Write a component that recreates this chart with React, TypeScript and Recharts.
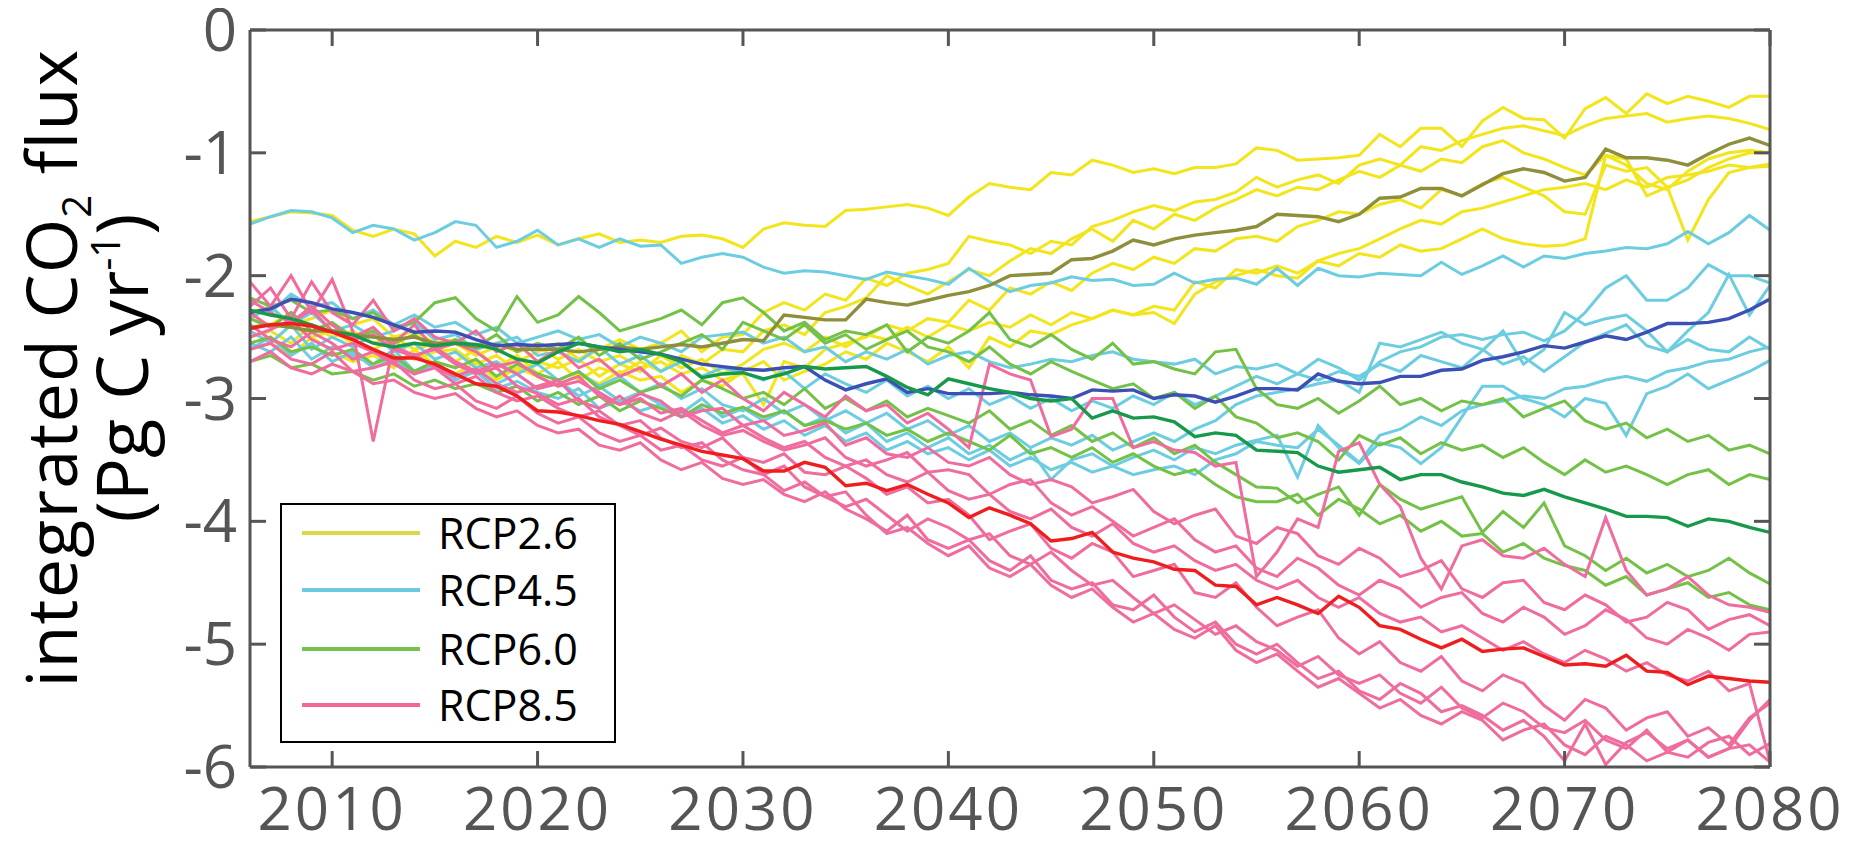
import React from 'react';
import { LineChart, Line, XAxis, YAxis, ReferenceLine } from 'recharts';

// ─── Data (Pg C / yr, one value per year) ───────────────────────────

const YEARS = [
  2006, 2007, 2008, 2009, 2010, 2011, 2012, 2013, 2014, 2015,
  2016, 2017, 2018, 2019, 2020, 2021, 2022, 2023, 2024, 2025,
  2026, 2027, 2028, 2029, 2030, 2031, 2032, 2033, 2034, 2035,
  2036, 2037, 2038, 2039, 2040, 2041, 2042, 2043, 2044, 2045,
  2046, 2047, 2048, 2049, 2050, 2051, 2052, 2053, 2054, 2055,
  2056, 2057, 2058, 2059, 2060, 2061, 2062, 2063, 2064, 2065,
  2066, 2067, 2068, 2069, 2070, 2071, 2072, 2073, 2074, 2075,
  2076, 2077, 2078, 2079, 2080,
];

const X_TICKS = [2010, 2020, 2030, 2040, 2050, 2060, 2070, 2080];
const Y_TICKS = [-6, -5, -4, -3, -2, -1, 0];

// RCP2.6 ensemble members + mean
const RCP26_A = [
  -1.56, -1.52, -1.48, -1.49, -1.51, -1.63, -1.68, -1.62, -1.66, -1.84,
  -1.72, -1.77, -1.68, -1.73, -1.67, -1.75, -1.70, -1.66, -1.73, -1.71,
  -1.73, -1.68, -1.67, -1.70, -1.77, -1.62, -1.57, -1.59, -1.60, -1.47,
  -1.46, -1.44, -1.42, -1.45, -1.51, -1.36, -1.25, -1.28, -1.30, -1.16,
  -1.18, -1.06, -1.10, -1.16, -1.13, -1.17, -1.12, -1.12, -1.09, -0.96,
  -0.98, -1.06, -1.05, -1.04, -1.02, -0.85, -0.95, -0.80, -0.80, -0.95,
  -0.74, -0.63, -0.72, -0.73, -0.88, -0.64, -0.55, -0.68, -0.52, -0.60,
  -0.54, -0.58, -0.63, -0.54, -0.54,
];
const RCP26_B = [
  -2.35, -2.40, -2.30, -2.45, -2.40, -2.50, -2.45, -2.55, -2.48, -2.60,
  -2.55, -2.65, -2.58, -2.70, -2.62, -2.55, -2.68, -2.60, -2.52, -2.60,
  -2.55, -2.45, -2.62, -2.50, -2.48, -2.30, -2.22, -2.28, -2.15, -2.20,
  -2.02, -2.08, -1.98, -1.95, -1.90, -1.68, -1.72, -1.75, -1.82, -1.72,
  -1.75, -1.60, -1.55, -1.48, -1.43, -1.47, -1.40, -1.38, -1.32, -1.20,
  -1.28, -1.22, -1.18, -1.25, -1.10, -1.05, -1.10, -0.95, -0.98, -0.90,
  -0.85, -0.80, -0.78, -0.82, -0.86, -0.78, -0.72, -0.70, -0.68, -0.75,
  -0.72, -0.70, -0.72, -0.76, -0.81,
];
const RCP26_C = [
  -2.50, -2.45, -2.55, -2.40, -2.50, -2.45, -2.55, -2.50, -2.60, -2.55,
  -2.70, -2.60, -2.75, -2.65, -2.80, -2.70, -2.85, -2.75, -2.80, -2.70,
  -2.78, -2.65, -2.72, -2.60, -2.62, -2.45, -2.40, -2.48, -2.30, -2.25,
  -2.18, -2.00, -2.08, -2.15, -2.05, -1.95, -2.00, -1.88, -1.78, -1.82,
  -1.70, -1.62, -1.72, -1.55, -1.62, -1.50, -1.55, -1.45, -1.38, -1.30,
  -1.35, -1.28, -1.30, -1.22, -1.15, -1.20, -1.10, -1.15, -1.05, -1.08,
  -0.95, -0.90, -1.00, -1.05, -1.12, -1.18, -1.02, -1.10, -1.25, -1.30,
  -1.15, -1.05, -1.00, -0.98, -1.00,
];
const RCP26_D = [
  -2.30, -2.25, -2.40, -2.35, -2.28, -2.40, -2.35, -2.50, -2.45, -2.55,
  -2.52, -2.60, -2.55, -2.62, -2.58, -2.68, -2.60, -2.70, -2.65, -2.75,
  -2.70, -2.80, -2.75, -2.85, -2.80, -3.05, -2.70, -2.75, -2.60, -2.55,
  -2.50, -2.40, -2.45, -2.35, -2.38, -2.20, -2.28, -2.10, -2.15, -2.05,
  -2.12, -1.98, -1.90, -1.95, -1.85, -1.90, -1.78, -1.80, -1.70, -1.68,
  -1.72, -1.60, -1.55, -1.48, -1.50, -1.42, -1.38, -1.45, -1.30, -1.35,
  -1.25, -1.20, -1.28, -1.35, -1.48, -1.50, -1.10, -1.15, -1.12, -1.28,
  -1.71, -1.38, -1.16, -1.12, -1.11,
];
const RCP26_E = [
  -2.60, -2.55, -2.65, -2.50, -2.62, -2.70, -2.65, -2.75, -2.60, -2.72,
  -2.80, -2.70, -2.85, -2.75, -2.82, -2.90, -2.80, -2.88, -2.78, -2.85,
  -2.82, -2.95, -2.85, -2.90, -2.78, -2.70, -2.85, -2.78, -2.72, -2.62,
  -2.68, -2.55, -2.62, -2.70, -2.58, -2.75, -2.50, -2.58, -2.45, -2.48,
  -2.40, -2.35, -2.28, -2.32, -2.25, -2.28, -2.05, -2.10, -1.95, -1.98,
  -1.92, -1.98, -1.88, -1.92, -1.82, -1.85, -1.75, -1.80, -1.78, -1.70,
  -1.62, -1.70, -1.74, -1.76, -1.75, -1.70, -1.02, -1.05, -1.35, -1.28,
  -1.22, -1.12, -1.05, -1.00, -1.00,
];
const RCP26_F = [
  -2.45, -2.55, -2.40, -2.50, -2.45, -2.55, -2.60, -2.52, -2.68, -2.62,
  -2.60, -2.72, -2.65, -2.78, -2.70, -2.75, -2.68, -2.82, -2.72, -2.78,
  -2.65, -2.75, -2.68, -2.80, -2.72, -2.60, -2.55, -2.62, -2.50, -2.58,
  -2.48, -2.52, -2.42, -2.50, -2.40, -2.45, -2.38, -2.42, -2.32, -2.40,
  -2.30, -2.35, -2.28, -2.32, -2.30, -2.39, -2.15, -2.05, -2.00, -1.95,
  -2.00, -2.02, -1.88, -1.82, -1.78, -1.70, -1.62, -1.55, -1.58, -1.48,
  -1.45, -1.40, -1.35, -1.30, -1.28, -1.25, -1.30, -1.22, -1.28, -1.20,
  -1.18, -1.15, -1.10, -1.12, -1.09,
];
const RCP26_MEAN = [
  -2.42, -2.40, -2.42, -2.45, -2.45, -2.48, -2.50, -2.52, -2.50, -2.55,
  -2.55, -2.58, -2.56, -2.60, -2.60, -2.60, -2.62, -2.60, -2.58, -2.60,
  -2.58, -2.56, -2.58, -2.55, -2.52, -2.53, -2.32, -2.34, -2.36, -2.36,
  -2.19, -2.22, -2.24, -2.20, -2.16, -2.13, -2.08, -2.00, -1.99, -1.98,
  -1.87, -1.86, -1.80, -1.71, -1.75, -1.70, -1.67, -1.65, -1.63, -1.60,
  -1.50, -1.51, -1.52, -1.56, -1.50, -1.37, -1.36, -1.29, -1.29, -1.35,
  -1.26, -1.17, -1.13, -1.16, -1.23, -1.20, -0.97, -1.04, -1.04, -1.06,
  -1.10, -1.01, -0.93, -0.88, -0.94,
];

// RCP4.5 ensemble members + mean
const RCP45_A = [
  -1.58, -1.52, -1.47, -1.48, -1.53, -1.65, -1.59, -1.62, -1.71, -1.65,
  -1.56, -1.59, -1.77, -1.72, -1.63, -1.75, -1.70, -1.77, -1.70, -1.76,
  -1.75, -1.90, -1.85, -1.82, -1.85, -1.93, -1.98, -1.96, -1.97, -2.00,
  -2.03, -1.97, -2.00, -2.03, -2.07, -1.94, -2.05, -2.13, -2.08, -2.06,
  -2.01, -2.04, -2.03, -2.08, -2.07, -1.98, -2.06, -2.03, -2.02, -2.07,
  -1.94, -2.08, -1.94, -2.00, -2.01, -1.98, -1.99, -2.00, -1.89, -1.99,
  -1.92, -1.84, -1.93, -1.84, -1.86, -1.82, -1.80, -1.77, -1.78, -1.74,
  -1.64, -1.74, -1.65, -1.51, -1.63,
];
const RCP45_B = [
  -2.20, -2.30, -2.15, -2.25, -2.22, -2.35, -2.28, -2.40, -2.32, -2.42,
  -2.38, -2.48, -2.42, -2.55, -2.50, -2.45, -2.52, -2.48, -2.58, -2.50,
  -2.55, -2.62, -2.50, -2.48, -2.46, -2.55, -2.50, -2.62, -2.58, -2.70,
  -2.62, -2.68, -2.60, -2.72, -2.65, -2.62, -2.70, -2.75, -2.72, -2.68,
  -2.70, -2.65, -2.62, -2.68, -2.70, -2.72, -2.68, -2.80, -2.74, -2.76,
  -2.72, -2.80, -2.68, -2.75, -2.85, -2.70, -2.62, -2.58, -2.50, -2.48,
  -2.52, -2.48, -2.46, -2.53, -2.45, -2.30, -2.10, -2.00, -2.20, -2.20,
  -2.10, -1.91, -2.00, -2.00, -2.06,
];
const RCP45_C = [
  -2.35, -2.25, -2.40, -2.30, -2.45, -2.40, -2.50, -2.45, -2.38, -2.52,
  -2.48, -2.60, -2.55, -2.50, -2.65, -2.62, -2.70, -2.58, -2.72, -2.65,
  -2.78, -2.70, -2.82, -2.75, -2.79, -2.85, -2.78, -2.92, -2.80, -2.88,
  -2.95, -2.85, -2.98, -2.90, -3.00, -2.92, -3.05, -2.98, -3.08, -3.00,
  -3.10, -3.02, -3.08, -2.98, -3.05, -2.95, -3.05, -2.98, -2.90, -2.82,
  -2.88, -2.80, -2.85, -2.78, -2.82, -2.72, -2.78, -2.65, -2.70, -2.75,
  -2.61, -2.45, -2.72, -2.60, -2.30, -2.40, -2.35, -2.32, -2.45, -2.62,
  -2.45, -2.30, -1.99, -2.32, -2.08,
];
const RCP45_D = [
  -2.45, -2.55, -2.40, -2.60, -2.50, -2.58, -2.48, -2.62, -2.55, -2.68,
  -2.62, -2.75, -2.70, -2.80, -2.72, -2.85, -2.78, -2.90, -2.82, -2.95,
  -2.88, -3.00, -2.92, -3.05, -3.10, -3.00, -3.12, -3.05, -3.18, -3.10,
  -3.20, -3.12, -3.25, -3.18, -3.30, -3.22, -3.35, -3.28, -3.40, -3.32,
  -3.38, -3.30, -3.42, -3.35, -3.28, -3.35, -3.25, -3.18, -3.05, -2.98,
  -2.95, -2.92, -2.88, -2.85, -2.95, -2.55, -2.58, -2.52, -2.46, -2.55,
  -2.60, -2.72, -2.66, -2.78, -2.66, -2.54, -2.47, -2.40, -2.57, -2.62,
  -2.52, -2.60, -2.62, -2.50, -2.60,
];
const RCP45_E = [
  -2.55, -2.62, -2.50, -2.68, -2.58, -2.65, -2.72, -2.60, -2.78, -2.70,
  -2.82, -2.75, -2.88, -2.80, -2.92, -2.85, -2.98, -2.90, -3.02, -2.95,
  -3.05, -3.12, -3.00, -3.15, -3.08, -3.18, -3.10, -3.22, -3.15, -3.28,
  -3.20, -3.35, -3.28, -3.40, -3.32, -3.45, -3.38, -3.50, -3.42, -3.66,
  -3.50, -3.45, -3.55, -3.48, -3.42, -3.50, -3.40, -3.45, -3.38, -3.34,
  -3.30, -3.64, -3.22, -3.40, -3.53, -3.36, -3.40, -3.53, -3.40, -3.15,
  -2.90, -2.90, -3.00, -3.05, -3.15, -3.00, -3.04, -3.30, -2.96, -2.90,
  -2.80, -2.92, -2.85, -2.78, -2.69,
];
const RCP45_F = [
  -2.60, -2.50, -2.65, -2.55, -2.70, -2.62, -2.75, -2.68, -2.80, -2.72,
  -2.85, -2.78, -2.92, -2.86, -2.95, -3.00, -2.92, -3.08, -3.02, -3.10,
  -3.05, -3.15, -3.08, -3.20, -3.14, -3.25, -3.18, -3.30, -3.22, -3.35,
  -3.28, -3.42, -3.35, -3.45, -3.40, -3.50, -3.42, -3.55, -3.48, -3.58,
  -3.52, -3.60, -3.55, -3.62, -3.58, -3.55, -3.62, -3.50, -3.45, -3.35,
  -3.38, -3.40, -3.25, -3.38, -3.52, -3.30, -3.25, -3.15, -3.22, -3.10,
  -3.05, -3.02, -2.98, -3.00, -2.92, -2.90, -2.85, -2.82, -2.86, -2.78,
  -2.75, -2.70, -2.68, -2.62, -2.58,
];
const RCP45_MEAN = [
  -2.30, -2.27, -2.19, -2.22, -2.27, -2.30, -2.34, -2.40, -2.46, -2.45,
  -2.46, -2.52, -2.57, -2.56, -2.57, -2.56, -2.55, -2.58, -2.60, -2.62,
  -2.64, -2.68, -2.72, -2.74, -2.76, -2.77, -2.75, -2.74, -2.85, -2.93,
  -2.88, -2.84, -2.95, -2.92, -2.96, -2.96, -2.96, -2.95, -2.97, -2.98,
  -3.00, -2.93, -2.94, -2.93, -3.00, -2.97, -2.98, -3.03, -2.98, -2.92,
  -2.92, -2.93, -2.80, -2.86, -2.88, -2.87, -2.82, -2.82, -2.77, -2.76,
  -2.69, -2.66, -2.62, -2.57, -2.59, -2.54, -2.49, -2.52, -2.46, -2.39,
  -2.39, -2.38, -2.35, -2.28, -2.19,
];

// RCP6.0 ensemble members + mean
const RCP60_A = [
  -2.18, -2.25, -2.20, -2.30, -2.28, -2.35, -2.30, -2.42, -2.38, -2.22,
  -2.18, -2.35, -2.45, -2.17, -2.38, -2.32, -2.17, -2.30, -2.45, -2.40,
  -2.35, -2.28, -2.40, -2.22, -2.18, -2.30, -2.45, -2.38, -2.52, -2.45,
  -2.48, -2.40, -2.62, -2.50, -2.55, -2.45, -2.30, -2.52, -2.58, -2.48,
  -2.60, -2.68, -2.55, -2.72, -2.70, -2.76, -2.80, -2.62, -2.60, -2.92,
  -3.05, -3.08, -3.00, -3.12, -3.02, -2.90, -3.05, -3.00, -3.10, -3.02,
  -3.05, -3.00, -3.15, -3.08, -3.02, -3.18, -3.25, -3.20, -3.32, -3.25,
  -3.35, -3.30, -3.42, -3.38, -3.45,
];
const RCP60_B = [
  -2.35, -2.42, -2.30, -2.45, -2.38, -2.50, -2.45, -2.55, -2.48, -2.60,
  -2.52, -2.58, -2.48, -2.62, -2.55, -2.60, -2.50, -2.65, -2.55, -2.68,
  -2.62, -2.55, -2.48, -2.60, -2.38, -2.45, -2.52, -2.40, -2.55, -2.48,
  -2.60, -2.52, -2.45, -2.58, -2.62, -2.70, -2.58, -2.72, -2.80, -2.70,
  -2.78, -2.85, -2.92, -2.88, -3.00, -2.95, -3.08, -2.98, -3.15, -3.20,
  -3.32, -3.28, -3.35, -3.50, -3.30, -3.38, -3.32, -3.45, -3.36, -3.42,
  -3.38, -3.48, -3.40, -3.52, -3.62, -3.50, -3.60, -3.55, -3.62, -3.70,
  -3.62, -3.58, -3.70, -3.62, -3.66,
];
const RCP60_C = [
  -2.55, -2.50, -2.62, -2.58, -2.65, -2.60, -2.72, -2.65, -2.78, -2.70,
  -2.75, -2.68, -2.82, -2.72, -2.80, -2.85, -2.78, -2.92, -2.85, -2.95,
  -2.90, -2.98, -2.85, -2.92, -3.00, -2.95, -3.05, -2.92, -3.08, -3.00,
  -3.10, -3.02, -3.15, -3.08, -3.14, -3.20, -3.10, -3.25, -3.18, -3.30,
  -3.22, -3.35, -3.28, -3.40, -3.32, -3.45, -3.38, -3.52, -3.62, -3.72,
  -3.73, -3.85, -3.78, -3.72, -3.95, -3.70, -3.82, -3.90, -3.85, -3.80,
  -4.09, -3.92, -4.05, -3.85, -4.20, -4.28, -4.40, -4.30, -4.42, -4.35,
  -4.45, -4.40, -4.30, -4.42, -4.51,
];
const RCP60_D = [
  -2.70, -2.65, -2.75, -2.72, -2.80, -2.78, -2.85, -2.80, -2.90, -2.85,
  -2.92, -2.88, -2.95, -2.90, -3.02, -2.95, -3.05, -2.98, -3.10, -3.02,
  -3.08, -3.15, -3.05, -3.12, -3.07, -3.15, -3.10, -3.22, -3.18, -3.25,
  -3.20, -3.30, -3.25, -3.35, -3.28, -3.35, -3.42, -3.30, -3.45, -3.40,
  -3.48, -3.40, -3.52, -3.45, -3.55, -3.62, -3.58, -3.70, -3.80, -3.84,
  -3.84, -3.78, -3.95, -3.82, -3.90, -4.02, -3.95, -4.08, -4.00, -4.12,
  -4.10, -4.25, -4.18, -4.30, -4.36, -4.40, -4.52, -4.45, -4.60, -4.55,
  -4.50, -4.62, -4.58, -4.68, -4.72,
];
const RCP60_MEAN = [
  -2.28, -2.32, -2.35, -2.40, -2.46, -2.48, -2.55, -2.58, -2.55, -2.57,
  -2.55, -2.56, -2.60, -2.68, -2.71, -2.62, -2.55, -2.58, -2.62, -2.60,
  -2.64, -2.70, -2.83, -2.80, -2.79, -2.84, -2.80, -2.74, -2.76, -2.75,
  -2.74, -2.82, -2.91, -2.97, -2.84, -2.88, -2.92, -2.95, -3.00, -3.02,
  -3.00, -3.16, -3.10, -3.16, -3.15, -3.19, -3.31, -3.28, -3.30, -3.42,
  -3.43, -3.44, -3.55, -3.60, -3.58, -3.56, -3.66, -3.62, -3.62, -3.68,
  -3.72, -3.77, -3.79, -3.74, -3.80, -3.85, -3.90, -3.96, -3.96, -3.97,
  -4.04, -3.98, -4.00, -4.05, -4.09,
];

// RCP8.5 ensemble members + mean
const RCP85_A = [
  -2.25, -2.10, -2.35, -2.05, -2.30, -2.40, -2.20, -2.45, -2.35, -2.50,
  -2.55, -2.45, -2.62, -2.55, -2.70, -2.60, -2.75, -2.68, -2.82, -2.75,
  -2.90, -2.80, -2.95, -2.85, -3.00, -3.10, -2.95, -3.05, -3.15, -2.98,
  -3.10, -3.05, -3.20, -3.12, -3.25, -3.40, -2.72, -2.80, -2.85, -3.31,
  -3.25, -3.00, -3.00, -3.40, -3.35, -3.42, -3.44, -3.55, -3.52, -4.45,
  -4.25, -3.98, -4.05, -3.43, -3.36, -3.70, -3.88, -4.30, -4.55, -4.20,
  -4.15, -4.28, -4.30, -4.22, -4.35, -4.45, -3.97, -4.40, -4.60, -4.55,
  -4.45, -4.60, -4.68, -4.70, -4.74,
];
const RCP85_B = [
  -2.30, -2.42, -2.38, -2.25, -2.40, -2.52, -2.48, -2.60, -2.66, -2.58,
  -2.70, -2.78, -2.72, -2.80, -2.92, -2.88, -2.82, -2.98, -3.05, -2.96,
  -3.02, -3.15, -3.10, -3.08, -3.22, -3.18, -3.30, -3.26, -3.20, -3.38,
  -3.32, -3.45, -3.48, -3.40, -3.52, -3.55, -3.48, -3.62, -3.70, -3.66,
  -3.72, -3.85, -3.80, -3.74, -3.92, -4.02, -3.95, -3.90, -4.12, -4.18,
  -4.05, -4.10, -4.28, -4.35, -4.22, -4.30, -4.45, -4.40, -4.32, -4.55,
  -4.62, -4.50, -4.48, -4.66, -4.72, -4.60, -4.68, -4.82, -4.78, -4.66,
  -4.72, -4.88, -4.80, -4.76, -4.85,
];
const RCP85_C = [
  -2.50, -2.44, -2.36, -2.52, -2.60, -2.55, -2.62, -2.70, -2.64, -2.75,
  -2.82, -2.76, -2.88, -2.95, -2.90, -2.85, -3.02, -3.08, -2.98, -3.12,
  -3.18, -3.10, -3.22, -3.30, -3.26, -3.35, -3.42, -3.38, -3.32, -3.48,
  -3.55, -3.50, -3.44, -3.60, -3.58, -3.62, -3.78, -3.70, -3.66, -3.85,
  -3.95, -3.88, -4.00, -4.12, -4.05, -3.98, -4.15, -4.25, -4.20, -4.38,
  -4.45, -4.30, -4.38, -4.52, -4.60, -4.48, -4.55, -4.70, -4.62, -4.58,
  -4.75, -4.82, -4.70, -4.78, -4.92, -4.85, -4.72, -4.80, -4.95, -5.00,
  -4.88, -4.95, -5.05, -4.92, -4.90,
];
const RCP85_D = [
  -2.40, -2.52, -2.58, -2.46, -2.55, -2.68, -2.62, -2.72, -2.80, -2.75,
  -2.88, -2.82, -2.95, -3.02, -2.98, -3.08, -3.15, -3.10, -3.22, -3.30,
  -3.24, -3.35, -3.40, -3.32, -3.48, -3.52, -3.45, -3.60, -3.62, -3.55,
  -3.65, -3.78, -3.72, -3.85, -3.82, -3.95, -4.15, -4.08, -4.02, -4.22,
  -4.30, -4.18, -4.25, -4.45, -4.40, -4.35, -4.58, -4.62, -4.50, -4.70,
  -4.85, -4.78, -4.72, -4.95, -5.08, -4.98, -5.15, -5.22, -5.10, -5.30,
  -5.38, -5.25, -5.32, -5.50, -5.62, -5.45, -5.52, -5.70, -5.60, -5.55,
  -5.75, -5.68, -5.82, -5.60, -5.48,
];
const RCP85_E = [
  -2.60, -2.55, -2.68, -2.72, -2.62, -2.78, -2.75, -2.70, -2.85, -2.92,
  -2.88, -3.02, -3.08, -2.98, -3.12, -3.20, -3.15, -3.28, -3.35, -3.30,
  -3.42, -3.38, -3.50, -3.55, -3.48, -3.62, -3.75, -3.68, -3.80, -3.88,
  -3.82, -3.95, -4.08, -3.98, -4.05, -4.15, -4.10, -4.28, -4.35, -4.25,
  -4.40, -4.52, -4.48, -4.62, -4.75, -4.68, -4.80, -4.92, -4.85, -4.98,
  -5.05, -5.18, -5.10, -5.25, -5.32, -5.25, -5.40, -5.48, -5.35, -5.52,
  -5.60, -5.48, -5.55, -5.68, -5.72, -5.62, -5.78, -5.85, -5.70, -5.88,
  -5.92, -5.80, -5.75, -5.90, -5.81,
];
const RCP85_F = [
  -2.70, -2.62, -2.75, -2.80, -2.72, -2.78, -2.88, -2.85, -2.95, -3.00,
  -2.96, -3.08, -3.15, -3.10, -3.22, -3.28, -3.25, -3.38, -3.42, -3.36,
  -3.50, -3.58, -3.52, -3.65, -3.70, -3.66, -3.78, -3.84, -3.76, -3.90,
  -3.98, -4.08, -3.95, -4.15, -4.22, -4.15, -4.32, -4.40, -4.28, -4.48,
  -4.55, -4.50, -4.68, -4.72, -4.60, -4.78, -4.90, -4.82, -5.00, -5.08,
  -5.00, -5.15, -5.28, -5.22, -5.38, -5.45, -5.32, -5.40, -5.55, -5.50,
  -5.58, -5.70, -5.62, -5.75, -5.95, -5.65, -5.98, -5.80, -5.72, -5.85,
  -5.78, -5.92, -5.85, -5.82, -5.96,
];
const RCP85_G = [
  -2.20, -2.30, -2.38, -2.28, -2.45, -2.50, -2.42, -2.58, -2.65, -2.60,
  -2.72, -2.80, -2.75, -2.90, -2.96, -3.05, -3.00, -3.15, -3.22, -3.18,
  -3.32, -3.40, -3.36, -3.50, -3.58, -3.62, -3.55, -3.72, -3.80, -3.76,
  -3.95, -4.10, -4.05, -4.18, -4.28, -4.20, -4.38, -4.45, -4.35, -4.52,
  -4.62, -4.55, -4.70, -4.82, -4.75, -4.88, -4.95, -4.85, -5.05, -5.15,
  -5.08, -5.22, -5.35, -5.28, -5.40, -5.52, -5.45, -5.58, -5.65, -5.55,
  -5.62, -5.78, -5.70, -5.65, -5.82, -5.90, -5.75, -5.82, -5.95, -5.88,
  -5.78, -5.92, -5.85, -5.62, -5.45,
];
const RCP85_H = [
  -2.05, -2.25, -2.00, -2.30, -2.03, -2.45, -3.35, -2.55, -2.40, -2.60,
  -2.55, -2.62, -2.74, -2.70, -2.82, -2.90, -2.86, -2.95, -3.05, -3.00,
  -3.12, -3.08, -3.18, -3.28, -3.22, -3.32, -3.40, -3.35, -3.48, -3.55,
  -3.50, -3.62, -3.68, -3.60, -3.75, -3.82, -3.78, -3.92, -3.98, -3.90,
  -4.05, -4.12, -4.02, -4.18, -4.25, -4.20, -4.32, -4.40, -4.35, -4.48,
  -4.55, -4.48, -4.62, -4.70, -4.62, -4.75, -4.82, -4.78, -4.90, -4.85,
  -4.95, -5.05, -4.98, -5.08, -5.15, -5.05, -5.12, -5.22, -5.15, -5.25,
  -5.30, -5.22, -5.38, -5.32, -5.96,
];
const RCP85_MEAN = [
  -2.43, -2.40, -2.39, -2.41, -2.46, -2.52, -2.60, -2.67, -2.67, -2.72,
  -2.80, -2.88, -2.90, -2.98, -3.10, -3.11, -3.14, -3.18, -3.21, -3.27,
  -3.33, -3.38, -3.43, -3.46, -3.49, -3.59, -3.59, -3.52, -3.56, -3.71,
  -3.69, -3.75, -3.70, -3.78, -3.85, -3.97, -3.89, -3.95, -4.02, -4.16,
  -4.14, -4.09, -4.25, -4.30, -4.33, -4.39, -4.40, -4.52, -4.53, -4.68,
  -4.62, -4.68, -4.75, -4.61, -4.70, -4.85, -4.88, -4.96, -5.03, -4.96,
  -5.06, -5.04, -5.03, -5.10, -5.17, -5.16, -5.18, -5.09, -5.22, -5.23,
  -5.33, -5.26, -5.28, -5.30, -5.31,
];

const LEGEND = [
  { label: 'RCP2.6', color: '#dcd744' },
  { label: 'RCP4.5', color: '#6ccadf' },
  { label: 'RCP6.0', color: '#76c24f' },
  { label: 'RCP8.5', color: '#f2679a' },
];

// ─── Series setup ───────────────────────────────────────────────────

const YELLOW = '#f2e51b';
const CYAN = '#6dcde0';
const GREEN = '#74c147';
const PINK = '#f06c9e';

const MEMBERS = [
  { key: 'y26a', values: RCP26_A, color: YELLOW },
  { key: 'y26b', values: RCP26_B, color: YELLOW },
  { key: 'y26c', values: RCP26_C, color: YELLOW },
  { key: 'y26d', values: RCP26_D, color: YELLOW },
  { key: 'y26e', values: RCP26_E, color: YELLOW },
  { key: 'y26f', values: RCP26_F, color: YELLOW },
  { key: 'y45a', values: RCP45_A, color: CYAN },
  { key: 'y45b', values: RCP45_B, color: CYAN },
  { key: 'y45c', values: RCP45_C, color: CYAN },
  { key: 'y45d', values: RCP45_D, color: CYAN },
  { key: 'y45e', values: RCP45_E, color: CYAN },
  { key: 'y45f', values: RCP45_F, color: CYAN },
  { key: 'y60a', values: RCP60_A, color: GREEN },
  { key: 'y60b', values: RCP60_B, color: GREEN },
  { key: 'y60c', values: RCP60_C, color: GREEN },
  { key: 'y60d', values: RCP60_D, color: GREEN },
  { key: 'y85a', values: RCP85_A, color: PINK },
  { key: 'y85b', values: RCP85_B, color: PINK },
  { key: 'y85c', values: RCP85_C, color: PINK },
  { key: 'y85d', values: RCP85_D, color: PINK },
  { key: 'y85e', values: RCP85_E, color: PINK },
  { key: 'y85f', values: RCP85_F, color: PINK },
  { key: 'y85g', values: RCP85_G, color: PINK },
  { key: 'y85h', values: RCP85_H, color: PINK },
];

const MEANS = [
  { key: 'm26', values: RCP26_MEAN, color: '#8e8e3c' },
  { key: 'm45', values: RCP45_MEAN, color: '#3c4fb4' },
  { key: 'm60', values: RCP60_MEAN, color: '#16994b' },
  { key: 'm85', values: RCP85_MEAN, color: '#ee1e1e' },
];

const data = YEARS.map((year, i) => {
  const row: Record<string, number> = { year };
  for (const s of [...MEMBERS, ...MEANS]) row[s.key] = s.values[i];
  return row;
});

// ─── Chart ──────────────────────────────────────────────────────────

const AXIS = '#555555';
const TICK_FONT = '"Open Sans", sans-serif';
const W = 1850;
const H = 840;

const XTick = ({ x, y, payload }: any) => (
  <text x={x} y={y + 63} textAnchor="middle" fontSize={60} fill={AXIS} fontFamily={TICK_FONT} letterSpacing={3}>
    {payload.value}
  </text>
);

const YTick = ({ x, y, payload }: any) => (
  <text x={x - 13} y={y + 21} textAnchor="end" fontSize={60} fill={AXIS} fontFamily={TICK_FONT}>
    {payload.value}
  </text>
);

// inward tick lengths in data units (about 16px)
const TX = 0.78;
const TY = 0.13;

export default function App() {
  return (
    <div style={{ position: 'relative', width: W, height: H }}>
      <LineChart width={W} height={H} data={data} margin={{ top: 22, right: 88, bottom: 11, left: 142 }}>
        <XAxis
          type="number"
          dataKey="year"
          domain={[2006, 2080]}
          ticks={X_TICKS}
          allowDataOverflow
          height={70}
          tickSize={0}
          tickMargin={0}
          tickLine={false}
          axisLine={{ stroke: AXIS, strokeWidth: 3 }}
          tick={<XTick />}
        />
        <YAxis
          type="number"
          domain={[-6, 0]}
          ticks={Y_TICKS}
          allowDataOverflow
          width={100}
          tickSize={0}
          tickMargin={0}
          tickLine={false}
          axisLine={{ stroke: AXIS, strokeWidth: 3 }}
          tick={<YTick />}
        />
        {MEMBERS.map(s => (
          <Line key={s.key} type="linear" dataKey={s.key} stroke={s.color} strokeWidth={3}
            dot={false} activeDot={false} isAnimationActive={false} />
        ))}
        {MEANS.map(s => (
          <Line key={s.key} type="linear" dataKey={s.key} stroke={s.color} strokeWidth={3.4}
            dot={false} activeDot={false} isAnimationActive={false} />
        ))}
        <ReferenceLine y={0} stroke={AXIS} strokeWidth={3} />
        <ReferenceLine x={2080} stroke={AXIS} strokeWidth={3} />
        {X_TICKS.map(t => (
          <ReferenceLine key={'xb' + t} segment={[{ x: t, y: -6 }, { x: t, y: -6 + TY }]} stroke={AXIS} strokeWidth={3} />
        ))}
        {X_TICKS.map(t => (
          <ReferenceLine key={'xt' + t} segment={[{ x: t, y: 0 }, { x: t, y: -TY }]} stroke={AXIS} strokeWidth={3} />
        ))}
        {Y_TICKS.map(t => (
          <ReferenceLine key={'yl' + t} segment={[{ x: 2006, y: t }, { x: 2006 + TX, y: t }]} stroke={AXIS} strokeWidth={3} />
        ))}
        {Y_TICKS.map(t => (
          <ReferenceLine key={'yr' + t} segment={[{ x: 2080, y: t }, { x: 2080 - TX, y: t }]} stroke={AXIS} strokeWidth={3} />
        ))}
      </LineChart>

      {/* y-axis title, in page coordinates (overlay starts at the page corner) */}
      <svg width={210} height={848} style={{ position: 'absolute', left: -8, top: -8 }}>
        <text transform="translate(77,368) rotate(-90)" textAnchor="middle" fontSize={70} letterSpacing={1.2}
          fill="#000" fontFamily={TICK_FONT}>
          integrated CO<tspan fontSize={40} dy={14}>2</tspan><tspan dy={-14}> flux</tspan>
        </text>
        <text transform="translate(148,368) rotate(-90)" textAnchor="middle" fontSize={72} fill="#000" fontFamily={TICK_FONT}>
          (Pg C yr<tspan fontSize={40} dy={-28}>-1</tspan><tspan dy={28}>)</tspan>
        </text>
      </svg>

      {/* legend */}
      <div style={{
        position: 'absolute', left: 272, top: 495, width: 336, height: 240, boxSizing: 'border-box',
        border: '2px solid #000', background: '#fff', fontFamily: TICK_FONT,
      }}>
        {LEGEND.map((item, i) => (
          <div key={item.label} style={{ position: 'absolute', left: 0, top: [28, 85, 144, 200][i] - 30, height: 60, width: '100%' }}>
            <div style={{ position: 'absolute', left: 20, top: 28, width: 118, height: 4, background: item.color }} />
            <div style={{ position: 'absolute', left: 156, top: 0, lineHeight: '60px', fontSize: 43, color: '#000' }}>
              {item.label}
            </div>
          </div>
        ))}
      </div>
    </div>
  );
}
